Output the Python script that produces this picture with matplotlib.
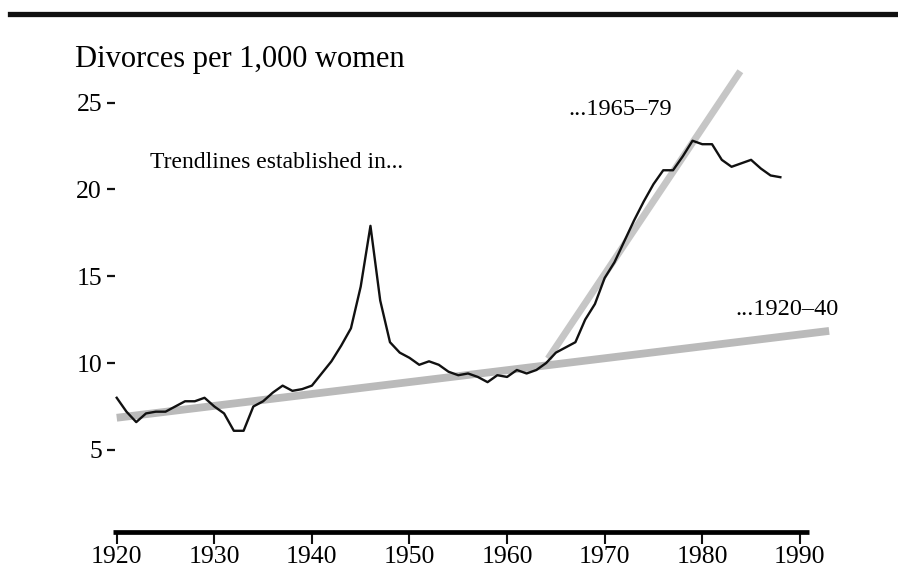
import matplotlib
matplotlib.use("Agg")
import matplotlib.pyplot as plt
from matplotlib.lines import Line2D

# ---- data ----
years = list(range(1920, 1989))
divorce_rate = [8.0, 7.2, 6.6, 7.1, 7.2, 7.2, 7.5, 7.8, 7.8, 8.0,
                7.5, 7.1, 6.1, 6.1, 7.5, 7.8, 8.3, 8.7, 8.4, 8.5,
                8.7, 9.4, 10.1, 11.0, 12.0, 14.4, 17.9, 13.6, 11.2, 10.6,
                10.3, 9.9, 10.1, 9.9, 9.5, 9.3, 9.4, 9.2, 8.9, 9.3,
                9.2, 9.6, 9.4, 9.6, 10.0, 10.6, 10.9, 11.2, 12.5, 13.4,
                14.9, 15.8, 17.0, 18.2, 19.3, 20.3, 21.1, 21.1, 21.9, 22.8,
                22.6, 22.6, 21.7, 21.3, 21.5, 21.7, 21.2, 20.8, 20.7]

trend_1920_40_years = [1920, 1993]
trend_1920_40_values = [6.85, 11.85]
trend_1965_79_years = [1964.2, 1983.9]
trend_1965_79_values = [10.25, 26.8]

x_ticks = [1920, 1930, 1940, 1950, 1960, 1970, 1980, 1990]
y_ticks = [5, 10, 15, 20, 25]

title = "Divorces per 1,000 women"
label_intro = "Trendlines established in..."
label_recent = "...1965\u201379"
label_early = "...1920\u201340"

# ---- style ----
plt.rcParams['font.family'] = ['Liberation Serif', 'DejaVu Serif']

W, H = 898, 572
fig = plt.figure(figsize=(W / 100, H / 100), dpi=100)

left_px, right_px = 113.3, 831.1
top_px, bottom_px = 59.1, 531.7
ax = fig.add_axes([left_px / W, 1 - bottom_px / H,
                   (right_px - left_px) / W, (bottom_px - top_px) / H])
ax.set_xlim(1919.65, 1993.2)
ax.set_ylim(0.29, 27.5)

ax.plot(trend_1920_40_years, trend_1920_40_values, color='#bababa',
        lw=5.6, solid_capstyle='butt', zorder=1)
ax.plot(trend_1965_79_years, trend_1965_79_values, color='#c6c6c6',
        lw=5.0, solid_capstyle='butt', zorder=1)
ax.plot(years, divorce_rate, color='#111111', lw=1.7, zorder=3,
        solid_joinstyle='round')

# axes styling
for s in ['top', 'right']:
    ax.spines[s].set_visible(False)
ax.spines['left'].set_visible(False)
ax.spines['left'].set_position(('data', 1919.83))
ax.spines['bottom'].set_linewidth(3.4)
ax.spines['bottom'].set_bounds(1919.65, 1990.9)
ax.spines['bottom'].set_capstyle('butt')

ax.set_xticks(x_ticks)
ax.set_xticklabels([str(t) for t in x_ticks])
ax.set_yticks(y_ticks)
ax.set_yticklabels([str(t) for t in y_ticks])
ax.tick_params(axis='x', direction='out', length=8.4, width=1.5,
               pad=2, labelsize=18.5, color='#111111')
ax.tick_params(axis='y', direction='out', length=5.8, width=1.6,
               pad=3.6, labelsize=18.5, color='#111111')

# annotations
ax.text(1923.4, 21.21, label_intro, fontsize=17, ha='left', va='baseline')
ax.text(1966.25, 24.28, label_recent, fontsize=17.5, ha='left', va='baseline')
ax.text(1983.35, 12.77, label_early, fontsize=17.5, ha='left', va='baseline')

fig.text(75 / W, 1 - 66.7 / H, title, fontsize=22, ha='left', va='baseline')

# top rule
fig.add_artist(Line2D([10 / W, 1.0], [1 - 14 / H, 1 - 14 / H],
                      color='#111111', lw=3.8, transform=fig.transFigure))

fig.savefig('out.png', dpi=100)
